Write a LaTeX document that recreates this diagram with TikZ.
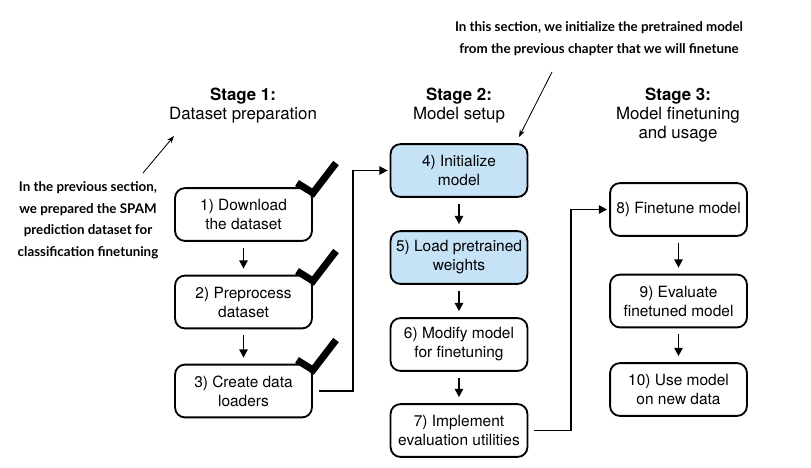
\documentclass[tikz,border=0pt]{standalone}
\usepackage{fontspec}
\setmainfont{TeX Gyre Heros}
\newfontfamily\notefont{Lato}
\usetikzlibrary{arrows.meta}
\definecolor{boxblue}{RGB}{198,226,247}

\begin{document}
\begin{tikzpicture}[x=0.025cm,y=-0.025cm]
      \useasboundingbox (0,0) rectangle (811,468);

      % stage headers
      \begin{scope}[every node/.style={anchor=north, align=center, inner sep=0pt,
          font=\fontsize{12}{13.5}\selectfont}]
        \node (s1) at (243,88) {\textbf{Stage 1:}\\Dataset preparation};
        \node (s2) at (459,88) {\textbf{Stage 2:}\\Model setup};
        \node (s3) at (678,88) {\textbf{Stage 3:}\\Model finetuning\\and usage};
      \end{scope}

      % steps
      \begin{scope}[every node/.style={draw, line width=1.3pt, rounded corners=7pt,
          minimum width=3.42cm, minimum height=1.32cm, inner sep=0pt, align=center,
          font=\fontsize{11}{13.5}\selectfont}]
        \node (1)  at (243.5,214.5) {1) Download\\the dataset};
        \node (2)  at (243.5,302)   {2) Preprocess\\dataset};
        \node (3)  at (243.5,391)   {3) Create data\\loaders};
        \node[fill=boxblue] (4) at (459,170.5) {4) Initialize\\model};
        \node[fill=boxblue] (5) at (459,257.5) {5) Load pretrained\\weights};
        \node (6)  at (459,344.5)   {6) Modify model\\for finetuning};
        \node (7)  at (459,430.5)   {7) Implement\\evaluation utilities};
        \node (8)  at (678.5,209.5) {8) Finetune model};
        \node (9)  at (678.5,301)   {9) Evaluate\\finetuned model};
        \node (10) at (678.5,389.5) {10) Use model\\on new data};
      \end{scope}

      % done marks
      \begin{scope}[line width=5pt, line join=miter]
        \draw (297,183) -- (313,193) -- (336,163);
        \draw (297,271) -- (313,281) -- (336,251);
        \draw (297,360) -- (313,370) -- (336,340);
      \end{scope}

      % flow
      \begin{scope}[line width=1.2pt, -{Triangle[length=2.1mm,width=2.1mm]}]
        \begin{scope}[every edge/.style={draw, shorten <=0.15cm, shorten >=0.15cm}]
          \path (1) edge (2);
          \path (2) edge (3);
          \path (4) edge (5);
          \path (5) edge (6);
          \path (6) edge (7);
          \path (8) edge (9);
          \path (9) edge (10);
        \end{scope}
        \draw[shorten <=0.15cm, shorten >=0.05cm] (3.east) -- ++(40,0) |- (4.west);
        \draw[shorten <=0.15cm, shorten >=0.05cm] (7.east) -- ++(43,0) |- (8.west);
      \end{scope}

      % side notes
      \begin{scope}[every node/.style={anchor=north, align=center, inner sep=0pt,
          font=\notefont\bfseries\fontsize{9.5}{15.5}\selectfont}]
        \node (note1) at (88,181) {In the previous section,\\we prepared the SPAM\\prediction dataset for\\classification finetuning};
        \node (note2) at (599,21) {In this section, we initialize the pretrained model\\from the previous chapter that we will finetune};
      \end{scope}
      \coordinate (n1a) at (143,173);
      \coordinate (n1b) at (174,136);
      \coordinate (n2a) at (552,72);
      \coordinate (n2b) at (519,137);
      \draw[line width=0.6pt, -{Stealth[length=1.8mm,width=1.3mm]}] (n1a) -- (n1b);
      \draw[line width=0.6pt, -{Stealth[length=1.8mm,width=1.3mm]}] (n2a) -- (n2b);

    \end{tikzpicture}
\end{document}
